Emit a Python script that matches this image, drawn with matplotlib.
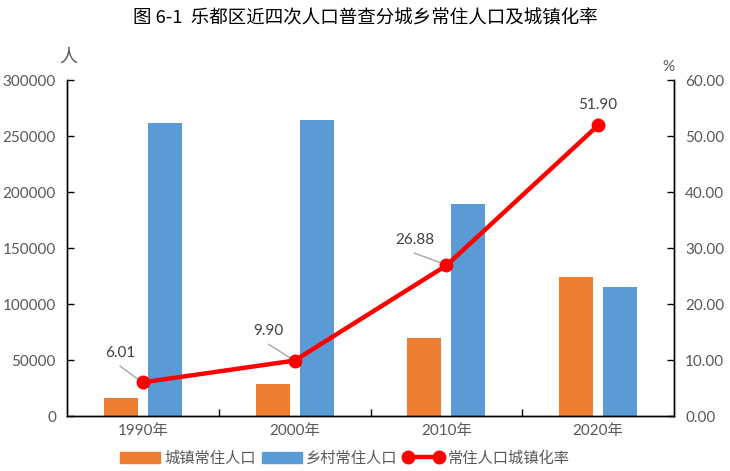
import matplotlib
matplotlib.use("Agg")
import matplotlib.pyplot as plt
from matplotlib.lines import Line2D
from matplotlib.patches import Patch
import numpy as np

plt.rcParams['font.family'] = ['Lato', 'Noto Sans CJK SC', 'DejaVu Sans']

years = ["1990年", "2000年", "2010年", "2020年"]
urban = [16300, 28800, 69900, 124100]
rural = [261900, 264300, 189300, 115200]
rate = [6.01, 9.90, 26.88, 51.90]
rate_labels = ["6.01", "9.90", "26.88", "51.90"]
left_ticks = [0, 50000, 100000, 150000, 200000, 250000, 300000]
right_ticks = [0, 10, 20, 30, 40, 50, 60]

orange = "#ED7D31"
blue = "#5B9BD5"
gray = "#595959"

fig = plt.figure(figsize=(7.3, 4.71), dpi=100)
ax = fig.add_axes([67/730, 1-416/471, (674-67)/730, (416-80)/471])
ax2 = ax.twinx()

x = np.arange(len(years))
w = 0.224
off = 0.145
ax.bar(x - off, urban, w, color=orange, zorder=2)
ax.bar(x + off, rural, w, color=blue, zorder=2)

ax.set_xlim(-0.5, 3.5)
ax.set_ylim(0, 300000)
ax.set_yticks(left_ticks)
ax.set_yticklabels([str(t) for t in left_ticks])
ax.set_xticks(x)
ax.set_xticklabels(years)
ax.set_xticks([0.5, 1.5, 2.5], minor=True)
ax.tick_params(axis='x', which='major', length=0, pad=6, labelsize=11, labelcolor=gray)
ax.tick_params(axis='x', which='minor', direction='in', length=5, width=1, color='black')
ax.tick_params(axis='y', direction='in', length=5, width=1, labelsize=11, labelcolor=gray, pad=8)

ax2.set_ylim(0, 60)
ax2.set_yticks(right_ticks)
ax2.set_yticklabels([f"{t:.2f}" for t in right_ticks])
ax2.tick_params(axis='y', direction='in', length=5, width=1, labelsize=11, labelcolor=gray, pad=8)

for a in (ax, ax2):
    a.spines['top'].set_visible(False)
    for s in ('left', 'right', 'bottom'):
        a.spines[s].set_color('black')
        a.spines[s].set_linewidth(1)

ax2.plot(x, rate, color='#FF0000', lw=3.2, marker='o', markersize=9, zorder=5)

# data labels with leader lines
label_pos = [(-0.15, 6.01 + 5.2), (-0.17, 9.90 + 5.2), (-0.21, 26.88 + 4.5), (0.0, 51.90 + 3.7)]
for i, (dx, ly) in enumerate(label_pos):
    ax2.text(x[i] + dx, ly, rate_labels[i], ha='center', va='center', fontsize=11, color='#404040', zorder=6)
    if i < 3:
        ax2.plot([x[i] + dx, x[i] - 0.02], [ly - 2.3, rate[i] + 0.3], color='#A6A6A6', lw=1, zorder=4)

fig.text(365/730, 1-18/471, "图 6-1  乐都区近四次人口普查分城乡常住人口及城镇化率", ha='center', va='center',
         fontsize=13.3, color='black', family=['Noto Sans CJK SC', 'DejaVu Sans'])
fig.text(68/730, 1-57/471, "人", ha='center', va='center', fontsize=13, color=gray,
         family=['Noto Sans CJK SC', 'DejaVu Sans'])
fig.text(668/730, 1-67/471, "%", ha='center', va='center', fontsize=11, color=gray)

handles = [Patch(color=orange), Patch(color=blue),
           Line2D([0], [0], color='#FF0000', lw=3.2, marker='o', markersize=9)]
labels = ["城镇常住人口", "乡村常住人口", "常住人口城镇化率"]
leg = fig.legend(handles, labels, loc='center', bbox_to_anchor=(345/730, 1-458/471), ncol=3,
                 frameon=False, fontsize=11, numpoints=2, handlelength=2.6, handletextpad=0.3,
                 columnspacing=0.4, labelcolor=gray, prop={'family': ['Noto Sans CJK SC', 'DejaVu Sans'], 'size': 11})

fig.savefig("out.png", dpi=100)
